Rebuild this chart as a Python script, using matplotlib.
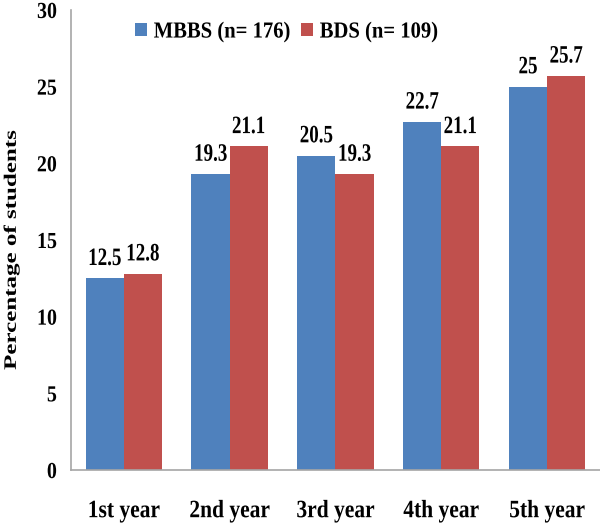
import numpy as np
import matplotlib
matplotlib.use('Agg')
import matplotlib.pyplot as plt
from matplotlib.patheffects import AbstractPathEffect
from matplotlib.transforms import Affine2D

# Data
years = ['1st year', '2nd year', '3rd year', '4th year', '5th year']
mbbs = [12.5, 19.3, 20.5, 22.7, 25]
bds = [12.8, 21.1, 19.3, 21.1, 25.7]
mbbs_labels = ['12.5', '19.3', '20.5', '22.7', '25']
bds_labels = ['12.8', '21.1', '19.3', '21.1', '25.7']


# the source image has its text squeezed sideways, so narrow the glyphs a bit
class Squash(AbstractPathEffect):
    def __init__(self, sx=0.85, anchor='center'):
        super().__init__()
        self.sx = sx
        self.anchor = anchor

    def draw_path(self, renderer, gc, tpath, affine, rgbFace=None):
        ext = tpath.get_extents(affine)
        if self.anchor == 'left':
            x0 = ext.x0
        elif self.anchor == 'right':
            x0 = ext.x1
        else:
            x0 = (ext.x0 + ext.x1) / 2
        t = affine + Affine2D().translate(-x0, 0).scale(self.sx, 1).translate(x0, 0)
        renderer.draw_path(gc, tpath, t, rgbFace)


plt.rcParams['font.family'] = ['Liberation Serif', 'DejaVu Serif']
plt.rcParams['font.weight'] = 'bold'

fig = plt.figure(figsize=(6, 5.24), dpi=100)
ax = fig.add_axes([0.118, 0.103, 0.882, 0.878])

x = np.arange(len(years))
w = 0.36
b1 = ax.bar(x - w / 2, mbbs, w, color='#4F81BD', label='MBBS (n= 176)')
b2 = ax.bar(x + w / 2, bds, w, color='#C0504D', label='BDS (n= 109)')

for bars, labs in [(b1, mbbs_labels), (b2, bds_labels)]:
    for rect, lab in zip(bars, labs):
        ax.annotate(lab, (rect.get_x() + rect.get_width() / 2, rect.get_height()),
                    xytext=(0, 6), textcoords='offset points',
                    ha='center', va='bottom', fontsize=18, fontweight='bold',
                    path_effects=[Squash(0.76)])

ax.set_xlim(-0.5, 4.5)
ax.set_ylim(0, 30)
ax.set_yticks(np.arange(0, 31, 5))
ax.set_xticks(x)
ax.set_xticklabels(years)
ax.tick_params(axis='y', length=0, labelsize=16.5, pad=10)
ax.tick_params(axis='x', length=0, labelsize=18, pad=21)
for t in ax.get_yticklabels():
    t.set_path_effects([Squash(0.87, 'right')])
for t in ax.get_xticklabels():
    t.set_path_effects([Squash(0.86)])

ax.set_ylabel('Percentage of students', fontsize=18, fontweight='bold')
ax.yaxis.set_label_coords(-0.091, 0.478)
ax.yaxis.label.set_path_effects([Squash(0.7)])

for s in ['top', 'right']:
    ax.spines[s].set_visible(False)
for s in ['left', 'bottom']:
    ax.spines[s].set_color('#a6a6a6')
    ax.spines[s].set_linewidth(1.2)

leg = ax.legend(loc='upper left', bbox_to_anchor=(0.083, 1.02), ncol=2, frameon=False,
                fontsize=16.5, handlelength=0.5, handleheight=0.5, handletextpad=0.3,
                columnspacing=-0.15)
for t in leg.get_texts():
    t.set_path_effects([Squash(0.9, 'left')])

fig.savefig('out.png', dpi=100)
